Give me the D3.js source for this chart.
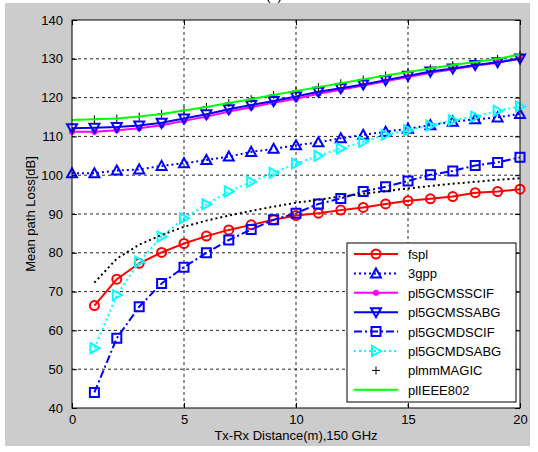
<!DOCTYPE html>
<html>
<head>
<meta charset="utf-8">
<script src="https://cdn.jsdelivr.net/npm/d3@7"></script>
<style>
  body { margin: 0; background: #ffffff; }
  svg text { font-family: "Liberation Sans", Arial, sans-serif; }
</style>
</head>
<body>
<div id="chart"></div>
<script>
// Mean path loss vs distance, 150 GHz

const distFrom0 = [0, 1, 2, 3, 4, 5, 6, 7, 8, 9, 10, 11, 12, 13, 14, 15, 16, 17, 18, 19, 20];
const distFrom1 = [1, 2, 3, 4, 5, 6, 7, 8, 9, 10, 11, 12, 13, 14, 15, 16, 17, 18, 19, 20];

const fspl = [66.4, 73.2, 77.3, 80.1, 82.4, 84.3, 85.9, 87.2, 88.5, 89.6, 90.2, 91.0, 91.7, 92.6, 93.4, 93.9, 94.5, 95.5, 95.8, 96.4];
const gpp3 = [100.5, 100.5, 101.2, 101.5, 102.4, 103.1, 103.9, 104.8, 106.0, 106.8, 107.7, 108.5, 109.5, 110.4, 111.2, 112.0, 112.9, 113.8, 114.4, 114.9, 115.8];
const ssCIF = [111.2, 111.2, 111.6, 112.1, 112.9, 114.0, 115.1, 116.4, 117.5, 118.7, 119.7, 121.0, 122.0, 123.1, 124.2, 125.3, 126.4, 127.3, 128.2, 129.0, 130.0];
const ssABG = [112.1, 112.2, 112.4, 112.8, 113.5, 114.6, 115.7, 117.0, 118.1, 119.1, 120.3, 121.5, 122.4, 123.4, 124.5, 125.6, 126.7, 127.5, 128.4, 129.1, 130.1];
const mdCIF = [44.0, 58.0, 66.1, 72.1, 76.3, 80.0, 83.3, 86.0, 88.5, 90.2, 92.6, 94.0, 95.8, 97.0, 98.5, 100.1, 101.1, 102.5, 103.3, 104.6];
const mdABG = [55.4, 69.1, 77.7, 84.2, 88.9, 92.5, 95.8, 98.3, 100.6, 103.0, 105.0, 106.9, 108.6, 110.4, 111.6, 112.8, 114.2, 115.1, 116.6, 117.7];
const mmMAGIC = [114.4, 114.6, 115.1, 115.8, 116.7, 117.6, 118.6, 119.6, 120.7, 121.7, 122.7, 123.7, 124.7, 125.7, 126.6, 127.5, 128.4, 129.2, 130.0, 131.0];
const ieee802 = [114.2, 114.4, 114.6, 115.1, 115.8, 116.7, 117.6, 118.6, 119.6, 120.7, 121.7, 122.7, 123.7, 124.7, 125.7, 126.6, 127.5, 128.4, 129.2, 130.0, 131.1];
const dottedFit = [72.3, 78.5, 82.1, 84.6, 86.7, 88.3, 89.6, 90.8, 91.9, 92.9, 93.7, 94.5, 95.2, 95.9, 96.6, 97.2, 97.8, 98.3, 98.8, 99.2];

const xTicks = [0, 5, 10, 15, 20];
const yTicks = [40, 50, 60, 70, 80, 90, 100, 110, 120, 130, 140];

// marker shapes
const markers = {
  circle: 'M-4.5,0A4.5,4.5 0 1,0 4.5,0A4.5,4.5 0 1,0 -4.5,0Z',
  triUp: 'M0,-5L5,4L-5,4Z',
  triDown: 'M0,5L5,-4L-5,-4Z',
  triRight: 'M5,0L-4,-5L-4,5Z',
  square: 'M-4.5,-4.5H4.5V4.5H-4.5Z',
  plus: 'M-4,0H4M0,-4V4',
  star: 'M-3,0H3M0,-3V3M-2.2,-2.2L2.2,2.2M-2.2,2.2L2.2,-2.2'
};

const series = [
  { name: 'fspl', xs: distFrom1, ys: fspl, color: '#ff0000', dash: null, line: true, marker: 'circle' },
  { name: '3gpp', xs: distFrom0, ys: gpp3, color: '#0000ff', dash: '2,3', line: true, marker: 'triUp' },
  { name: 'pl5GCMSSCIF', xs: distFrom0, ys: ssCIF, color: '#ff00ff', dash: null, line: true, marker: 'star' },
  { name: 'pl5GCMSSABG', xs: distFrom0, ys: ssABG, color: '#0000ff', dash: null, line: true, marker: 'triDown' },
  { name: 'pl5GCMDSCIF', xs: distFrom1, ys: mdCIF, color: '#0000ff', dash: '8,3,2,3', line: true, marker: 'square' },
  { name: 'pl5GCMDSABG', xs: distFrom1, ys: mdABG, color: '#00ffff', dash: '2,3', line: true, marker: 'triRight' },
  { name: 'plmmMAGIC', xs: distFrom1, ys: mmMAGIC, color: '#000000', dash: null, line: false, marker: 'plus' },
  { name: 'plIEEE802', xs: distFrom0, ys: ieee802, color: '#00ff00', dash: null, line: true, marker: null }
];

const W = 538, H = 452;
const plot = { left: 72, right: 520, top: 20, bottom: 408 };

const svg = d3.select('#chart').append('svg')
  .attr('width', W)
  .attr('height', H);

// figure background
svg.append('rect').attr('x', 5).attr('y', 3).attr('width', 525).attr('height', 443).attr('fill', '#cccccc');
svg.append('text').attr('x', 274).attr('y', -0.5).attr('text-anchor', 'middle')
  .style('font-size', '14px').text('(c)');

const x = d3.scaleLinear().domain([0, 20]).range([plot.left, plot.right]);
const y = d3.scaleLinear().domain([40, 140]).range([plot.bottom, plot.top]);

svg.append('rect')
  .attr('x', plot.left).attr('y', plot.top)
  .attr('width', plot.right - plot.left).attr('height', plot.bottom - plot.top)
  .attr('fill', '#ffffff');

// grid
const grid = svg.append('g').attr('stroke', '#000').attr('stroke-width', 1).attr('stroke-dasharray', '3,3').attr('opacity', 0.85);
grid.selectAll('.gx').data(xTicks.slice(1, -1)).enter().append('line')
  .attr('x1', d => x(d)).attr('x2', d => x(d))
  .attr('y1', plot.top).attr('y2', plot.bottom);
grid.selectAll('.gy').data(yTicks.slice(1, -1)).enter().append('line')
  .attr('x1', plot.left).attr('x2', plot.right)
  .attr('y1', d => y(d)).attr('y2', d => y(d));

// series
const plotArea = svg.append('g');
series.forEach(s => {
  const pts = s.xs.map((d, i) => [d, s.ys[i]]);
  if (s.line) {
    plotArea.append('path')
      .datum(pts)
      .attr('fill', 'none')
      .attr('stroke', s.color)
      .attr('stroke-width', 2)
      .attr('stroke-dasharray', s.dash)
      .attr('d', d3.line().x(d => x(d[0])).y(d => y(d[1])));
  }
  if (s.marker) {
    plotArea.selectAll(null).data(pts).enter().append('path')
      .attr('transform', d => `translate(${x(d[0])},${y(d[1])})`)
      .attr('d', markers[s.marker])
      .attr('fill', 'none')
      .attr('stroke', s.color)
      .attr('stroke-width', s.marker === 'plus' ? 1 : 2);
  }
});

// unlabeled black dotted curve
plotArea.append('path')
  .datum(distFrom1.map((d, i) => [d, dottedFit[i]]))
  .attr('fill', 'none')
  .attr('stroke', '#000')
  .attr('stroke-width', 2)
  .attr('stroke-dasharray', '2,3')
  .attr('d', d3.line().x(d => x(d[0])).y(d => y(d[1])));

// axes (MATLAB box, inward ticks)
svg.append('g')
  .attr('transform', `translate(0,${plot.bottom})`)
  .call(d3.axisBottom(x).tickValues(xTicks).tickSize(-5).tickPadding(7))
  .call(g => g.select('.domain').remove());
svg.append('g')
  .attr('transform', `translate(0,${plot.top})`)
  .call(d3.axisTop(x).tickValues(xTicks).tickSize(-5).tickFormat(''))
  .call(g => g.select('.domain').remove());
svg.append('g')
  .attr('transform', `translate(${plot.left},0)`)
  .call(d3.axisLeft(y).tickValues(yTicks).tickSize(-5).tickPadding(9))
  .call(g => g.select('.domain').remove());
svg.append('g')
  .attr('transform', `translate(${plot.right},0)`)
  .call(d3.axisRight(y).tickValues(yTicks).tickSize(-5).tickFormat(''))
  .call(g => g.select('.domain').remove());
svg.selectAll('.tick text').style('font-size', '13px').attr('fill', '#000');
svg.selectAll('.tick line').attr('stroke', '#000');

svg.append('rect')
  .attr('x', plot.left).attr('y', plot.top)
  .attr('width', plot.right - plot.left).attr('height', plot.bottom - plot.top)
  .attr('fill', 'none').attr('stroke', '#000').attr('stroke-width', 1);

// axis labels
svg.append('text')
  .attr('x', (plot.left + plot.right) / 2)
  .attr('y', 440)
  .attr('text-anchor', 'middle')
  .style('font-size', '13px')
  .text('Tx-Rx Distance(m),150 GHz');
svg.append('text')
  .attr('transform', `translate(35,${(plot.top + plot.bottom) / 2}) rotate(-90)`)
  .attr('text-anchor', 'middle')
  .style('font-size', '13px')
  .text('Mean path Loss[dB]');

// legend
const legend = svg.append('g');
legend.append('rect')
  .attr('x', 347).attr('y', 243).attr('width', 169).attr('height', 159)
  .attr('fill', '#fff').attr('stroke', '#000');
series.forEach((s, i) => {
  const ly = 254 + i * 19.4;
  if (s.line) {
    legend.append('line')
      .attr('x1', 354).attr('x2', 398).attr('y1', ly).attr('y2', ly)
      .attr('stroke', s.color).attr('stroke-width', 2)
      .attr('stroke-dasharray', s.dash);
  }
  if (s.marker) {
    legend.append('path')
      .attr('transform', `translate(376,${ly})`)
      .attr('d', markers[s.marker])
      .attr('fill', 'none').attr('stroke', s.color)
      .attr('stroke-width', s.marker === 'plus' ? 1 : 2);
  }
  legend.append('text')
    .attr('x', 408).attr('y', ly + 5)
    .style('font-size', '13px')
    .text(s.name);
});
</script>
</body>
</html>
